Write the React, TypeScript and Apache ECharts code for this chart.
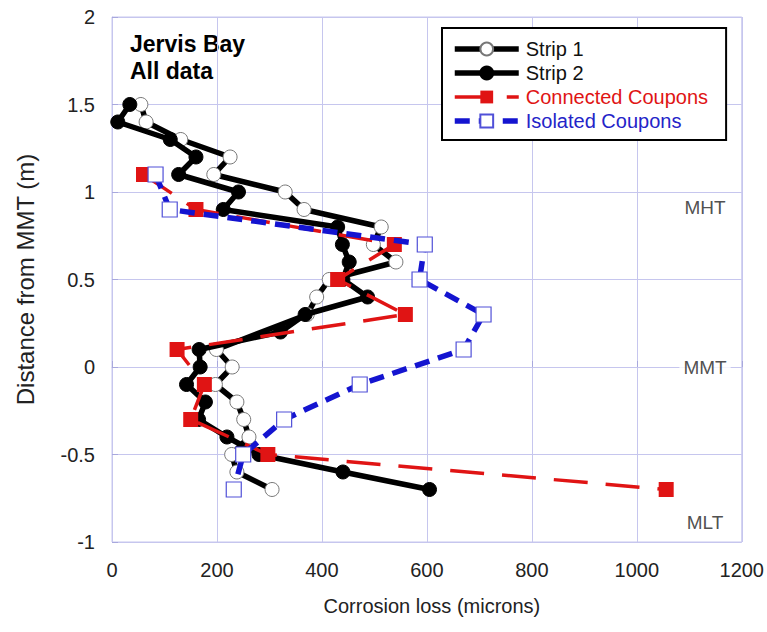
import React, { useEffect, useRef } from "react";
import * as echarts from "echarts";

// Distances from MMT (m) and corrosion loss (microns)
const strip1Depth = [1.5, 1.4, 1.3, 1.2, 1.1, 1.0, 0.9, 0.8, 0.7, 0.6, 0.5, 0.4, 0.3, 0.1, 0.0, -0.1, -0.2, -0.3, -0.4, -0.5, -0.6, -0.7];
const strip1Loss = [55, 65, 131, 225, 194, 330, 366, 513, 498, 541, 414, 390, 372, 199, 229, 197, 238, 251, 261, 228, 238, 305];

const strip2Depth = [1.5, 1.4, 1.3, 1.2, 1.1, 1.0, 0.9, 0.8, 0.7, 0.6, 0.5, 0.4, 0.3, 0.2, 0.1, 0.0, -0.1, -0.2, -0.3, -0.4, -0.5, -0.6, -0.7];
const strip2Loss = [34, 11, 111, 160, 127, 241, 212, 430, 439, 452, 440, 487, 368, 321, 166, 168, 142, 178, 165, 219, 280, 440, 605];

const connectedDepth = [1.1, 0.9, 0.7, 0.5, 0.3, 0.1, -0.1, -0.3, -0.5, -0.7];
const connectedLoss = [60, 160, 538, 430, 559, 124, 176, 150, 297, 1056];

const isolatedDepth = [1.1, 0.9, 0.7, 0.5, 0.3, 0.1, -0.1, -0.3, -0.5, -0.7];
const isolatedLoss = [83, 110, 596, 586, 708, 670, 472, 328, 250, 232];

const zoneNames = ["MHT", "MMT", "MLT"];
const zoneDepth = [0.91, 0.0, -0.89];
const zoneLabelLoss = 1130;

const xTicks = { min: 0, max: 1200, interval: 200 };
const yTicks = { min: -1, max: 2, interval: 0.5 };

const FONT = "'Liberation Sans', Arial, Helvetica, sans-serif";
const GRID = "#c6c6ee";

const pairs = (xs: number[], ys: number[]) => xs.map((x, i) => [x, ys[i]]);

export default function App() {
  const ref = useRef<HTMLDivElement>(null);
  useEffect(() => {
    if (!ref.current) return;
    const chart = echarts.init(ref.current, undefined, { renderer: "svg" });
    chart.setOption({
      animation: false,
      backgroundColor: "#ffffff",
      textStyle: { fontFamily: FONT },
      grid: {
        left: 112,
        right: 25,
        top: 17,
        bottom: 90,
        show: true,
        borderColor: GRID,
        borderWidth: 1,
      },
      xAxis: {
        type: "value",
        min: xTicks.min,
        max: xTicks.max,
        interval: xTicks.interval,
        name: "Corrosion loss (microns)",
        nameLocation: "middle",
        nameGap: 54,
        nameTextStyle: { fontSize: 20, color: "#222", fontFamily: FONT, padding: [0, 0, 0, 10] },
        axisLine: { show: true, lineStyle: { color: GRID, width: 1 } },
        axisTick: { show: true, inside: true, length: 6, lineStyle: { color: "#a8a8dd" } },
        axisLabel: { fontSize: 20, color: "#222", margin: 18, fontFamily: FONT, formatter: (v: number) => String(v) },
        splitLine: { show: true, lineStyle: { color: GRID, width: 1 } },
      },
      yAxis: {
        type: "value",
        min: yTicks.min,
        max: yTicks.max,
        interval: yTicks.interval,
        name: "Distance from MMT (m)",
        nameLocation: "middle",
        nameGap: 75,
        nameRotate: 90,
        nameTextStyle: { fontSize: 24, color: "#222", fontFamily: FONT },
        axisLine: { show: true, lineStyle: { color: GRID, width: 1 } },
        axisTick: { show: true, inside: true, length: 6, lineStyle: { color: "#a8a8dd" } },
        axisLabel: { fontSize: 20, color: "#222", margin: 17, fontFamily: FONT, formatter: (v: number) => String(v) },
        splitLine: { show: true, lineStyle: { color: GRID, width: 1 } },
      },
      legend: {
        orient: "vertical",
        left: 442,
        top: 28,
        padding: [11, 18, 9, 10],
        itemGap: 4,
        itemWidth: 64,
        itemHeight: 16,
        borderColor: "#000",
        borderWidth: 2,
        backgroundColor: "#fff",
        lineStyle: { width: "inherit" },
        textStyle: { fontSize: 20, lineHeight: 20, color: "#111", fontFamily: FONT, padding: [0, 0, 0, 2] },
        data: [
          { name: "Strip 1" },
          { name: "Strip 2" },
          { name: "Connected Coupons", textStyle: { color: "#e01414" } },
          { name: "Isolated Coupons", textStyle: { color: "#2424c8" } },
        ],
      },
      graphic: [
        {
          type: "text",
          x: 130,
          y: 44,
          style: { text: "Jervis Bay", font: `bold 23px ${FONT}`, fill: "#000", verticalAlign: "middle" },
        },
        {
          type: "text",
          x: 130,
          y: 71,
          style: { text: "All data", font: `bold 23px ${FONT}`, fill: "#000", verticalAlign: "middle" },
        },
      ],
      series: [
        {
          name: "Strip 1",
          type: "line",
          data: pairs(strip1Loss, strip1Depth),
          symbol: "circle",
          symbolSize: 14,
          lineStyle: { color: "#000", width: 5.5 },
          itemStyle: { color: "#fff", borderColor: "#777", borderWidth: 1 },
          z: 2,
        },
        {
          name: "Strip 2",
          type: "line",
          data: pairs(strip2Loss, strip2Depth),
          symbol: "circle",
          symbolSize: 14,
          lineStyle: { color: "#000", width: 5.5 },
          itemStyle: { color: "#000", borderColor: "#000", borderWidth: 1 },
          z: 3,
        },
        {
          name: "Connected Coupons",
          type: "line",
          data: pairs(connectedLoss, connectedDepth),
          symbol: "rect",
          symbolSize: 15,
          lineStyle: { color: "#e01414", width: 3.5, type: [34, 18] },
          itemStyle: { color: "#e01414", borderColor: "#e01414", borderWidth: 0 },
          z: 4,
        },
        {
          name: "Isolated Coupons",
          type: "line",
          data: pairs(isolatedLoss, isolatedDepth),
          symbol: "rect",
          symbolSize: 15,
          lineStyle: { color: "#1414d0", width: 5.5, type: [15, 9] },
          itemStyle: { color: "#fff", borderColor: "#5050d8", borderWidth: 1.2 },
          z: 5,
        },
        {
          name: "zones",
          type: "scatter",
          data: zoneNames.map((n, i) => ({ name: n, value: [zoneLabelLoss, zoneDepth[i]] })),
          symbolSize: 0,
          silent: true,
          label: {
            show: true,
            position: "inside",
            formatter: (p: any) => p.name,
            fontSize: 19,
            color: "#222",
            fontFamily: FONT,
            backgroundColor: "#fff",
            padding: [0, 4],
          },
          z: 6,
        },
      ],
    });
    return () => chart.dispose();
  }, []);
  return (
    <div
      ref={ref}
      style={{ position: "absolute", left: 0, top: 0, width: 767, height: 632 }}
    />
  );
}
